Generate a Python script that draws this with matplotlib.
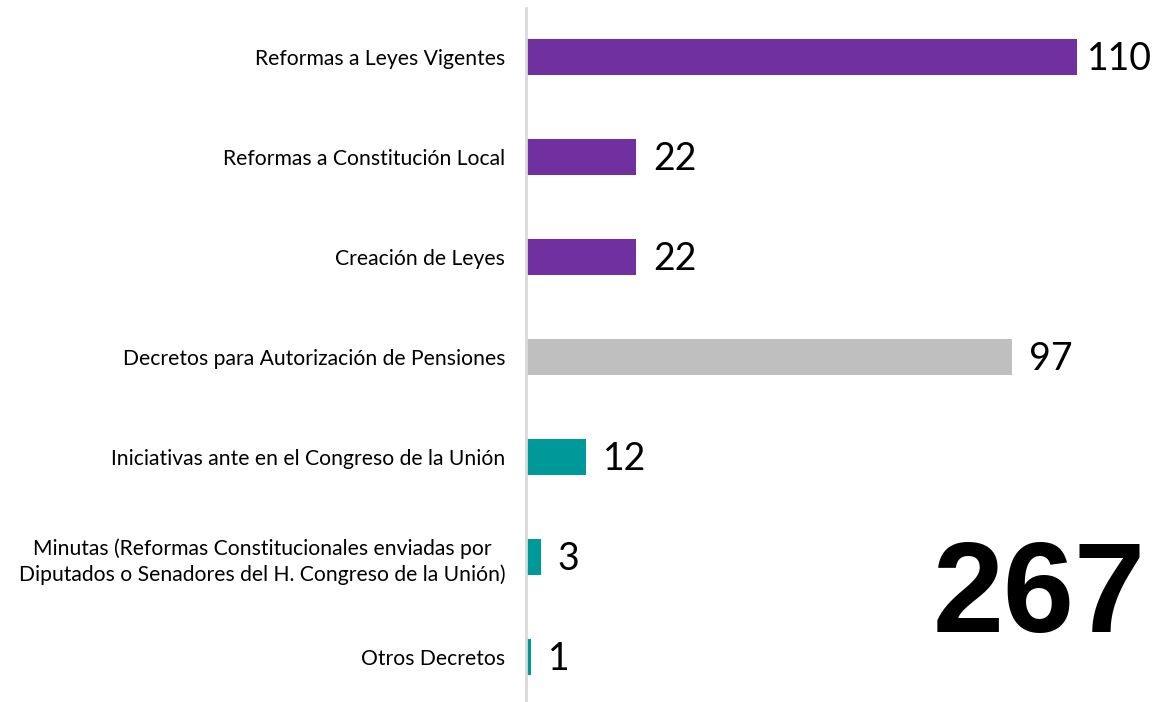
import numpy as np
import matplotlib.pyplot as plt

categorias = ['Reformas a Leyes Vigentes',
              'Reformas a Constitución Local',
              'Creación de Leyes',
              'Decretos para Autorización de Pensiones',
              'Iniciativas ante en el Congreso de la Unión',
              'Minutas (Reformas Constitucionales enviadas por\nDiputados o Senadores del H. Congreso de la Unión)',
              'Otros Decretos']
valores = [110, 22, 22, 97, 12, 3, 1]
colores = ['#7030A0', '#7030A0', '#7030A0', '#BFBFBF', '#009999', '#009999', '#009999']
total = 267

fig = plt.figure(figsize=(11.55, 7.02), dpi=100)
ax = fig.add_axes([526/1155, 0, 1 - 526/1155, 1 - 8/702])

y = np.arange(len(categorias))
ax.barh(y, valores, height=0.36, color=colores)
ax.set_xlim(0, 629/5.01)
ax.set_ylim(6.45, -0.49)

for yi, v in zip(y, valores):
    off = 3.3 if v < 100 else 1.9
    ax.text(v + off, yi + 0.02, str(v), va='center', ha='left', fontsize=27,
            family='Lato', clip_on=False)

ax.set_yticks(y)
ax.set_yticklabels(categorias, fontsize=15.2, family='Lato')
ax.tick_params(axis='y', length=0, pad=15)
for lbl in ax.get_yticklabels():
    lbl.set_ha('right')
    lbl.set_multialignment('center')
    lbl.set_linespacing(1.35)

ax.set_xticks([])
for s in ['top', 'right', 'bottom']:
    ax.spines[s].set_visible(False)
ax.spines['left'].set_color('#D9D9D9')
ax.spines['left'].set_linewidth(2)

ax.text(0.985, 0.148, str(total), transform=ax.transAxes, ha='right', va='center',
        fontsize=92, fontweight='bold', family='Liberation Sans')

fig.savefig('out.png', dpi=100)
